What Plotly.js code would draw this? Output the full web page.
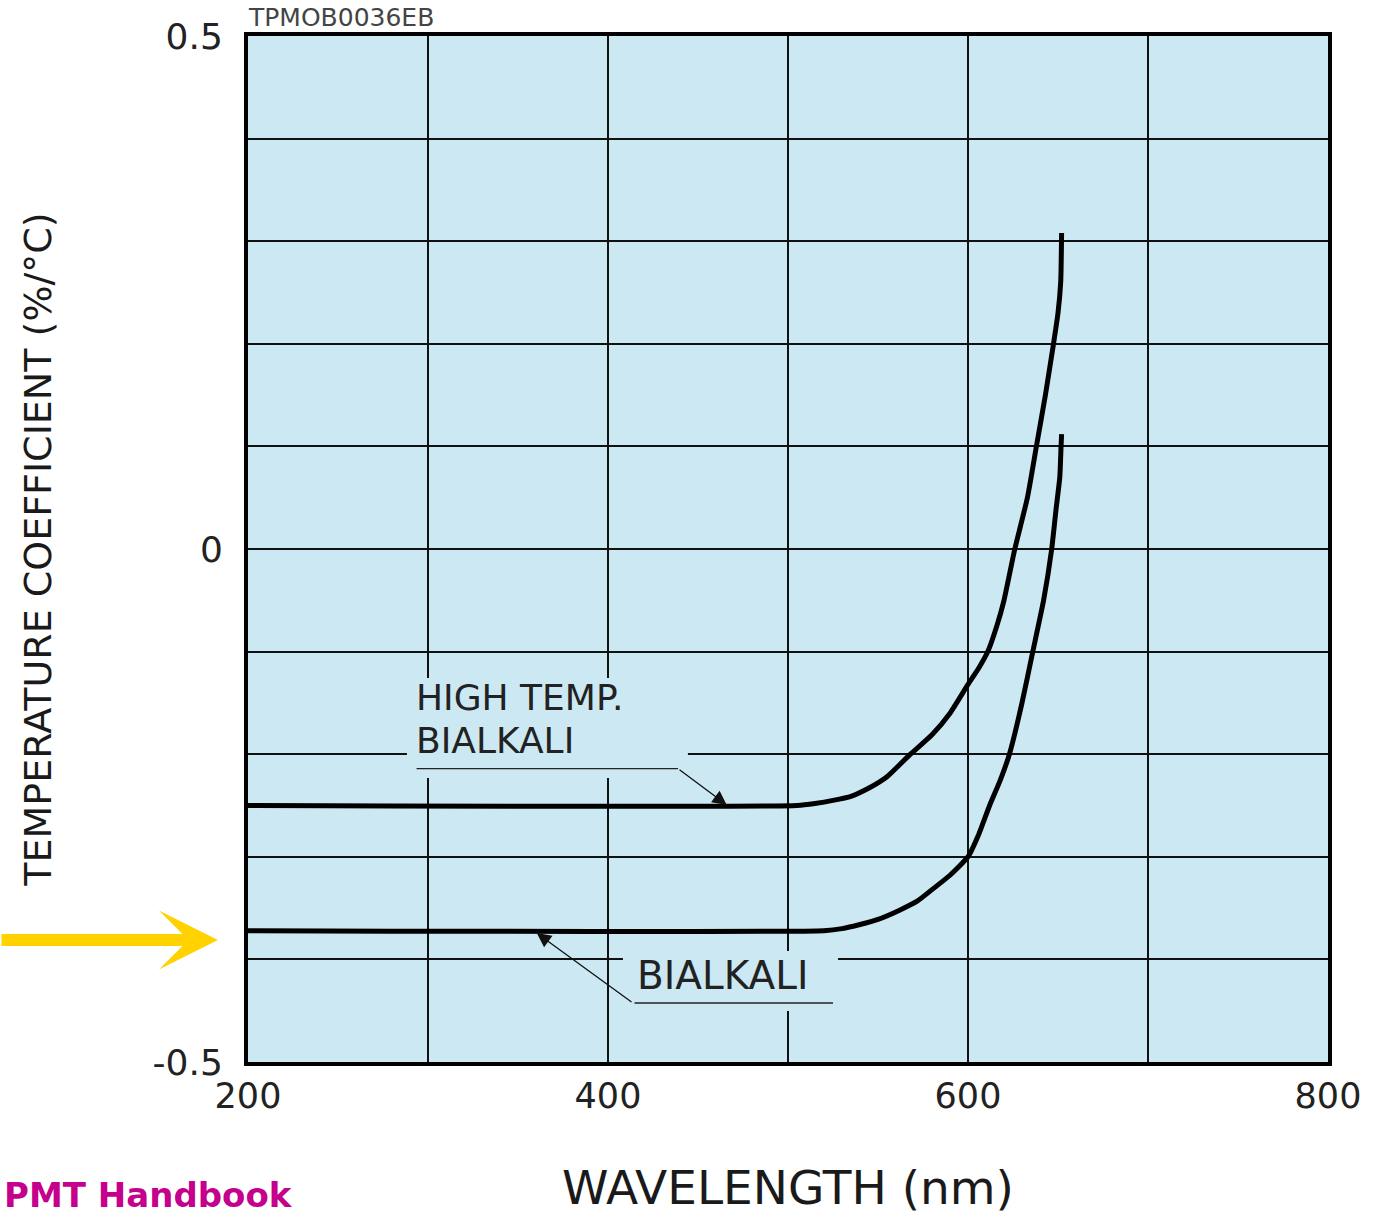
<!DOCTYPE html>
<html>
<head>
<meta charset="utf-8">
<script src="https://cdn.plot.ly/plotly-3.0.1.min.js"></script>
<style>
  html, body { margin: 0; padding: 0; background: #ffffff; }
  #chart { width: 1375px; height: 1215px; }
</style>
</head>
<body>
<div id="chart"></div>
<script>
// ---- data ----
const wavelengthHighTemp = [200, 505, 515, 525, 535, 545, 555, 568, 580, 590, 600, 606, 611, 616, 620, 626, 633, 638, 643, 647.5, 650, 651.5, 652];
const coefHighTemp       = [-0.25, -0.25, -0.248, -0.245, -0.241, -0.233, -0.222, -0.2, -0.181, -0.16, -0.132, -0.116, -0.1, -0.075, -0.05, 0, 0.05, 0.1, 0.15, 0.2, 0.23, 0.26, 0.308];

const wavelengthBialkali = [200, 520, 530, 540, 550, 562, 572, 580, 590, 600, 606, 612, 618, 623, 630, 636, 642, 646.5, 649, 651, 651.7, 652];
const coefBialkali       = [-0.372, -0.372, -0.37, -0.366, -0.361, -0.352, -0.343, -0.332, -0.318, -0.3, -0.278, -0.25, -0.225, -0.2, -0.15, -0.1, -0.05, 0, 0.04, 0.07, 0.1, 0.112];

const seriesNames = ['HIGH TEMP. BIALKALI', 'BIALKALI'];

const xTickVals = [200, 400, 600, 800];
const xTickText = ['200', '400', '600', '800'];
const yTickVals = [-0.5, 0, 0.5];
const yTickText = ['-0.5', '0', '0.5'];

const xTitle = 'WAVELENGTH (nm)';
const yTitle = 'TEMPERATURE COEFFICIENT (%/°C)';
const codeLabel = 'TPMOB0036EB';
const footerLabel = 'PMT Handbook';

// ---- styling ----
const BG = '#cce9f3';
const INK = '#111111';
const FONT = 'DejaVu Sans, Liberation Sans, Arial, sans-serif';

const traces = [
  { x: wavelengthHighTemp, y: coefHighTemp, name: seriesNames[0], mode: 'lines',
    line: { color: '#000000', width: 5, shape: 'spline', smoothing: 0.5 }, hoverinfo: 'skip' },
  { x: wavelengthBialkali, y: coefBialkali, name: seriesNames[1], mode: 'lines',
    line: { color: '#000000', width: 5, shape: 'spline', smoothing: 0.5 }, hoverinfo: 'skip' }
];

const gridStyle = { showgrid: true, gridcolor: INK, gridwidth: 2 };

const labelFont = { family: FONT, size: 36, color: '#222222' };

const layout = {
  width: 1375, height: 1215,
  margin: { l: 248, r: 47, t: 36, b: 153 },
  paper_bgcolor: '#ffffff',
  plot_bgcolor: BG,
  showlegend: false,
  font: { family: FONT, color: '#222222' },
  xaxis: {
    range: [200, 800], tickmode: 'array', tickvals: xTickVals, ticktext: xTickText,
    showgrid: true, gridcolor: INK, gridwidth: 2,
    minor: Object.assign({ tickmode: 'linear', tick0: 200, dtick: 100, ticks: '' }, gridStyle),
    showline: true, mirror: true, linecolor: '#000000', linewidth: 4,
    ticks: '', zeroline: false, ticklabelstandoff: 0,
    tickfont: { family: FONT, size: 35, color: '#222222' },
    title: { text: xTitle, standoff: 64, font: { family: FONT, size: 47, color: '#1a1a1a' } },
    automargin: false, fixedrange: true
  },
  yaxis: {
    range: [-0.5, 0.5], tickmode: 'array', tickvals: yTickVals, ticktext: yTickText,
    showgrid: true, gridcolor: INK, gridwidth: 2,
    minor: Object.assign({ tickmode: 'linear', tick0: -0.5, dtick: 0.1, ticks: '' }, gridStyle),
    showline: true, mirror: true, linecolor: '#000000', linewidth: 4,
    ticks: '', zeroline: false, ticklabelstandoff: 14,
    tickfont: { family: FONT, size: 36, color: '#222222' },
    title: { text: yTitle, standoff: 90, font: { family: FONT, size: 38, color: '#1a1a1a' } },
    automargin: false, fixedrange: true
  },
  shapes: [
    // background patches behind the labels (hide the grid there)
    { type: 'rect', xref: 'x', yref: 'y', x0: 288.3, x1: 444.4, y0: -0.2232, y1: -0.1257,
      fillcolor: BG, line: { width: 0 }, layer: 'between' },
    { type: 'rect', xref: 'x', yref: 'y', x0: 408.3, x1: 527.8, y0: -0.4503, y1: -0.3918,
      fillcolor: BG, line: { width: 0 }, layer: 'between' }
  ],
  annotations: [
    // label: HIGH TEMP. BIALKALI
    { xref: 'x', yref: 'y', x: 292.8, y: -0.1452, xanchor: 'left', yanchor: 'middle',
      text: 'HIGH TEMP.', showarrow: false, borderpad: 0, font: labelFont },
    { xref: 'x', yref: 'y', x: 292.8, y: -0.1871, xanchor: 'left', yanchor: 'middle',
      text: 'BIALKALI', showarrow: false, borderpad: 0, font: labelFont },
    // underline + leader for HIGH TEMP.
    { xref: 'x', yref: 'y', axref: 'x', ayref: 'y', x: 438.9, y: -0.2141, ax: 292.8, ay: -0.2141,
      text: '', showarrow: true, arrowhead: 0, arrowwidth: 1.3, arrowcolor: '#222222', standoff: 0 },
    { xref: 'x', yref: 'y', axref: 'x', ayref: 'y', x: 466.0, y: -0.2495, ax: 438.9, ay: -0.2141,
      text: '', showarrow: true, arrowhead: 2, arrowsize: 2.2, arrowwidth: 1.3, arrowcolor: '#111111', standoff: 0 },
    // label: BIALKALI
    { xref: 'x', yref: 'y', x: 415.6, y: -0.416, xanchor: 'left', yanchor: 'middle',
      text: 'BIALKALI', showarrow: false, borderpad: 0, font: { family: FONT, size: 39, color: '#222222' } },
    { xref: 'x', yref: 'y', axref: 'x', ayref: 'y', x: 525.0, y: -0.4425, ax: 413.9, ay: -0.4425,
      text: '', showarrow: true, arrowhead: 0, arrowwidth: 1.3, arrowcolor: '#222222', standoff: 0 },
    { xref: 'x', yref: 'y', axref: 'x', ayref: 'y', x: 360.4, y: -0.3743, ax: 413.9, ay: -0.4425,
      text: '', showarrow: true, arrowhead: 2, arrowsize: 2.2, arrowwidth: 1.3, arrowcolor: '#111111', standoff: 0 },
    // figure code at top
    { xref: 'paper', yref: 'paper', x: -0.002, y: 1.0185, xanchor: 'left', yanchor: 'middle',
      text: codeLabel, showarrow: false, font: { family: FONT, size: 25, color: '#444444' } },
    // yellow pointer arrow
    { xref: 'paper', yref: 'paper', x: -0.0278, y: 0.1189, ax: -240, ay: 0,
      text: '', showarrow: true, arrowhead: 3, arrowsize: 0.82, arrowwidth: 12,
      arrowcolor: '#ffd200', standoff: 0 },
    // footer
    { xref: 'paper', yref: 'paper', x: -0.2278, y: -0.1297, xanchor: 'left', yanchor: 'middle',
      text: '<b>' + footerLabel + '</b>', showarrow: false,
      font: { family: FONT, size: 34, color: '#c5008c' } }
  ]
};

Plotly.newPlot('chart', traces, layout, { displayModeBar: false, staticPlot: true });
</script>
</body>
</html>
